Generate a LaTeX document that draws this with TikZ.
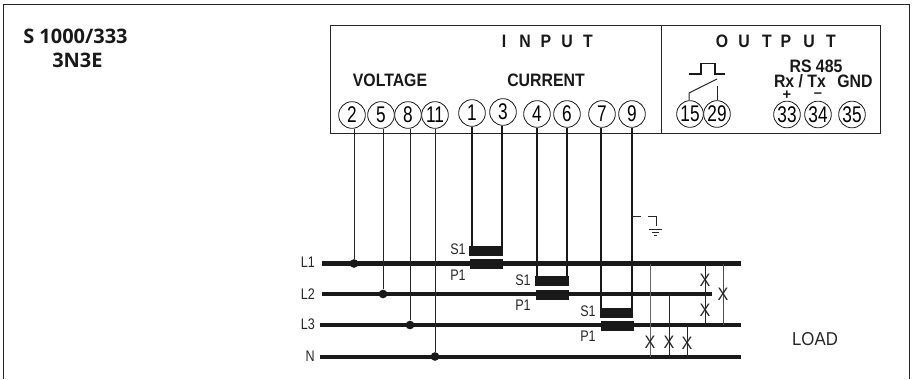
\documentclass[tikz,border=0pt]{standalone}
\usepackage{graphicx}
\usepackage{fontspec}
\setmainfont{Liberation Sans}
\newfontfamily\headfont{Open Sans}
\newcommand{\Sq}[1]{\scalebox{0.76}[1]{#1}}
\tikzset{
 px/.style={x=0.75pt,y=-0.75pt},
 term/.style={circle,draw=black!90,line width=0.6pt,minimum size=20pt,inner sep=0pt,font=\fontsize{17}{17}\selectfont,fill=white},
 lab/.style={inner sep=0pt,font=\fontsize{11.5}{12}\selectfont,text=black!85,xscale=0.82},
 head/.style={inner sep=0pt,font=\bfseries\fontsize{13.5}{14}\selectfont,text=black!90,xscale=0.88},
 sign/.style={inner sep=0pt,font=\bfseries\fontsize{11}{11}\selectfont,text=black!90},
 bus/.style={line width=3.2pt,draw=black!90},
 frame/.style={line width=0.75pt,draw=black!85},
 thin/.style={line width=0.75pt,draw=black!85},
 lead/.style={line width=2pt,draw=black!90},
 dot/.style={circle,fill=black!90,inner sep=0pt,minimum size=6.5pt},
 xm/.style={inner sep=0pt,font=\fontsize{13.5}{14}\selectfont,text=black!85,xscale=0.9},
 title/.style={inner sep=0pt,anchor=west,font=\headfont\bfseries\fontsize{15}{16}\selectfont,text=black!90},
}
\begin{document}
\begin{tikzpicture}[px]
\useasboundingbox (0,0) rectangle (914,379);
\draw[frame] (3,379) -- (3,4.5) -- (909,4.5) -- (909,379);
\draw[frame] (330.5,25) rectangle (880,133.5);
\draw[frame] (661.5,25) -- (661.5,133.5);
\node[title] (t1) at (23,36) {S 1000/333};
\node[title] (t2) at (52,60.5) {3N3E};
\foreach \c/\x in {I/504,N/525,P/546,U/567,T/588}
  \node[head,anchor=center] (in\c) at (\x,41) {\c};
\foreach \i/\c/\x in {1/O/722,2/U/744,3/T/767,4/P/786,5/U/809,6/T/831}
  \node[head,anchor=center] (out\i) at (\x,41) {\c};
\node[head] (hv) at (390,80) {VOLTAGE};
\node[head] (hc) at (546,80) {CURRENT};
\node[head] (hr) at (816,66) {RS 485};
\node[head] (hx) at (800,81) {Rx / Tx};
\node[head] (hg) at (855,81) {GND};
\node[sign] (hp) at (787,95.5) {+};
\node[sign] (hm) at (818,95.5) {--};
% terminals
\foreach \n/\x/\y/\t in {a2/352/115/2,a5/381/115/5,a8/408/115/8,a11/435/115/11,b1/472/113/1,b3/503/112/3,b4/537/114/4,b6/567/114/6,b7/602/114/7,b9/632/114/9,c15/690/114/15,c29/717/114/29,c33/787/114.5/33,c34/818/114.5/34,c35/852/114.5/35}
  \node[term] (\n) at (\x,\y) {\Sq{\t}};
% buses
\coordinate (L1a) at (322,263.5); \coordinate (L1b) at (741,263.5);
\coordinate (L2a) at (322,294); \coordinate (L2b) at (712,294);
\coordinate (L3a) at (320,325); \coordinate (L3b) at (741,325);
\coordinate (Na) at (320,357); \coordinate (Nb) at (741,357);
\draw[bus] (L1a) -- (L1b);
\draw[bus] (L2a) -- (L2b);
\draw[bus] (L3a) -- (L3b);
\draw[bus] (Na) -- (Nb);
\node[lab,anchor=east] (tL1) at (315,262) {L1};
\node[lab,anchor=east] (tL2) at (315,294) {L2};
\node[lab,anchor=east] (tL3) at (315,324) {L3};
\node[lab,anchor=east] (tN) at (315,356) {N};
% voltage leads
\node[dot] (d1) at (354,263.5) {};
\node[dot] (d2) at (383,294) {};
\node[dot] (d3) at (410,325) {};
\node[dot] (d4) at (435,356.5) {};
\draw[thin] (a2.south -| d1) -- (d1);
\draw[thin] (a5.south -| d2) -- (d2);
\draw[thin] (a8.south -| d3) -- (d3);
\draw[thin] (a11) -- (d4);
% CT leads
\draw[lead] (b1.south) -- (472,250);
\draw[lead] (b3.south -| 502,0) -- (502,250);
\draw[lead] (b4.south) -- (537,282);
\draw[lead] (b6.south) -- (567,282);
\draw[lead] (b7.south -| 601,0) -- (601,313);
\draw[lead] (b9.south) -- (632,313);
% CT bars
\foreach \xa/\xb/\ys/\xc/\xd/\yp in {469/503/251/470/503/264,535/569/281/536/569/295,600/633/313/601/634/326}{
  \fill[black!90] (\xa,\ys-5) rectangle (\xb,\ys+5);
  \fill[black!90] (\xc,\yp-5) rectangle (\xd,\yp+5);
}
\node[lab] (s1) at (458,249) {S1};
\node[lab] (p1) at (458,275) {P1};
\node[lab] (s2) at (523,280) {S1};
\node[lab] (p2) at (523,305) {P1};
\node[lab] (s3) at (588,311) {S1};
\node[lab] (p3) at (588,336) {P1};
% earth
\coordinate (e1) at (632,216);
\draw[thin] (e1) -- (641,216);
\draw[thin] (648,216) -- (656,216) -- (656,226);
\draw[thin] (649,229) -- (662,229);
\draw[thin] (652,232) -- (659,232);
\draw[thin] (654,235) -- (657,235);
% load
\draw[line width=0.75pt,draw=black!60] (650,264) -- (650,357);
\draw[thin] (669,294) -- (669,357);
\draw[thin] (687,325) -- (687,357);
\draw[thin] (705,264) -- (705,325);
\draw[line width=0.75pt,draw=black!70] (723,264) -- (723,325);
\foreach \x/\y in {650/342,669/342,687/343,705/280,705/310,723/294}
  \node[xm] at (\x,\y) {X};
\node[inner sep=0pt,font=\fontsize{14}{14}\selectfont,text=black!85,xscale=0.9] (load) at (815,339) {LOAD};
% relay symbol
\draw[line width=1pt,draw=black!90] (689,74) -- (701,74) -- (701,63.5) -- (715,63.5) -- (715,74) -- (725,74);
\draw[thin] (689,100) -- (689,93) -- (717,79);
\draw[thin] (717,100) -- (717,86);
\end{tikzpicture}
\end{document}
